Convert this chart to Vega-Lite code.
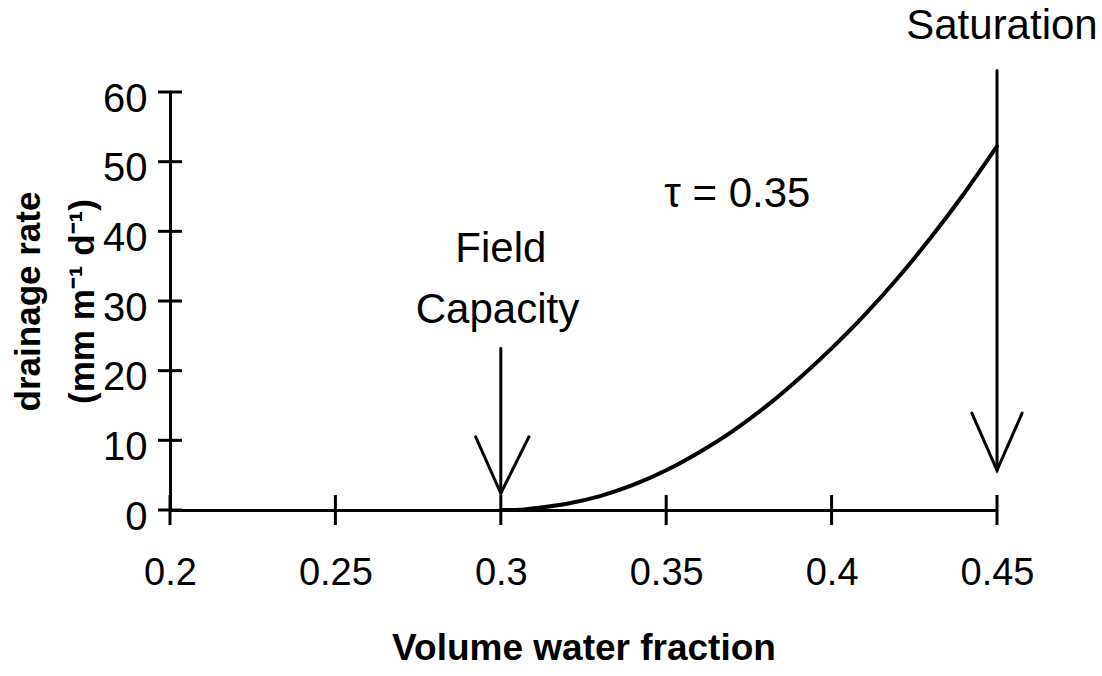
{
  "$schema": "https://vega.github.io/schema/vega-lite/v6.json",
  "width": 827,
  "height": 418,
  "autosize": "none",
  "padding": {"left": 170, "top": 92, "right": 105, "bottom": 166},
  "background": "white",
  "config": {"view": {"stroke": null}, "font": "Liberation Sans", "axis": {"grid": false}},
  "datasets": {
    "curve": [
      {"theta": 0.300, "rate": 0},
      {"theta": 0.306, "rate": 0.05},
      {"theta": 0.31, "rate": 0.25},
      {"theta": 0.32, "rate": 0.9},
      {"theta": 0.33, "rate": 2.0},
      {"theta": 0.34, "rate": 3.6},
      {"theta": 0.35, "rate": 5.7},
      {"theta": 0.36, "rate": 8.3},
      {"theta": 0.37, "rate": 11.3},
      {"theta": 0.38, "rate": 14.8},
      {"theta": 0.39, "rate": 18.8},
      {"theta": 0.40, "rate": 23.2},
      {"theta": 0.41, "rate": 28.0},
      {"theta": 0.42, "rate": 33.3},
      {"theta": 0.43, "rate": 39.1},
      {"theta": 0.44, "rate": 45.4},
      {"theta": 0.45, "rate": 52.2}
    ],
    "arrows": [
      {"seg": "fc-shaft", "o": 1, "theta": 0.3, "rate": 23.2},
      {"seg": "fc-shaft", "o": 2, "theta": 0.3, "rate": 2.4},
      {"seg": "fc-head", "o": 1, "theta": 0.2924, "rate": 10.5},
      {"seg": "fc-head", "o": 2, "theta": 0.3, "rate": 2.4},
      {"seg": "fc-head", "o": 3, "theta": 0.3085, "rate": 10.5},
      {"seg": "sat-shaft", "o": 1, "theta": 0.45, "rate": 63.1},
      {"seg": "sat-shaft", "o": 2, "theta": 0.45, "rate": 5.7},
      {"seg": "sat-head", "o": 1, "theta": 0.4424, "rate": 13.9},
      {"seg": "sat-head", "o": 2, "theta": 0.45, "rate": 5.7},
      {"seg": "sat-head", "o": 3, "theta": 0.4576, "rate": 13.9}
    ],
    "labels": [
      {"text": "Saturation", "theta": 0.4515, "rate": 67.6},
      {"text": "Field", "theta": 0.3, "rate": 35.6},
      {"text": "Capacity", "theta": 0.299, "rate": 26.8},
      {"text": "τ = 0.35", "theta": 0.3715, "rate": 43.5}
    ],
    "xticks": [
      {"theta": 0.2}, {"theta": 0.25}, {"theta": 0.3}, {"theta": 0.35}, {"theta": 0.4}, {"theta": 0.45}
    ],
    "yticks": [
      {"rate": 0}, {"rate": 10}, {"rate": 20}, {"rate": 30}, {"rate": 40}, {"rate": 50}, {"rate": 60}
    ]
  },
  "layer": [
    {
      "data": {"name": "curve"},
      "mark": {"type": "line", "color": "black", "strokeWidth": 4, "interpolate": "monotone", "strokeCap": "round"},
      "encoding": {
        "x": {
          "field": "theta", "type": "quantitative",
          "scale": {"domain": [0.2, 0.45], "nice": false, "zero": false},
          "axis": {
            "title": "Volume water fraction",
            "values": [0.2, 0.25, 0.3, 0.35, 0.4, 0.45],
            "format": "~g",
            "ticks": false,
            "domainColor": "black", "domainWidth": 3,
            "labelFontSize": 38, "labelColor": "black", "labelPadding": 44,
            "labelFlush": false, "labelOverlap": false,
            "titleFontSize": 37, "titleFontWeight": "bold", "titleColor": "black", "titlePadding": 38
          }
        },
        "y": {
          "field": "rate", "type": "quantitative",
          "scale": {"domain": [0, 60], "nice": false},
          "axis": {
            "title": ["drainage rate", "(mm m⁻¹ d⁻¹)"],
            "values": [0, 10, 20, 30, 40, 50, 60],
            "ticks": false,
            "domainColor": "black", "domainWidth": 3,
            "labelFontSize": 40, "labelColor": "black", "labelPadding": 23, "labelOffset": 7,
            "labelFlush": false, "labelOverlap": false,
            "titleFontSize": 35, "titleFontWeight": "bold", "titleColor": "black",
            "titleLineHeight": 54, "titlePadding": 2
          }
        }
      }
    },
    {
      "data": {"name": "arrows"},
      "mark": {"type": "line", "color": "black", "strokeWidth": 3, "strokeCap": "round", "strokeJoin": "miter"},
      "encoding": {
        "x": {"field": "theta", "type": "quantitative"},
        "y": {"field": "rate", "type": "quantitative"},
        "detail": {"field": "seg", "type": "nominal"},
        "order": {"field": "o", "type": "quantitative"}
      }
    },
    {
      "data": {"name": "xticks"},
      "mark": {"type": "tick", "orient": "vertical", "color": "black", "size": 30, "thickness": 3, "opacity": 1},
      "encoding": {
        "x": {"field": "theta", "type": "quantitative"},
        "y": {"datum": 0, "type": "quantitative"}
      }
    },
    {
      "data": {"name": "yticks"},
      "mark": {"type": "tick", "orient": "horizontal", "color": "black", "size": 24, "thickness": 3, "opacity": 1},
      "encoding": {
        "x": {"datum": 0.2, "type": "quantitative"},
        "y": {"field": "rate", "type": "quantitative"}
      }
    },
    {
      "data": {"name": "labels"},
      "mark": {"type": "text", "color": "black", "fontSize": 42, "align": "center", "baseline": "alphabetic", "font": "Liberation Sans"},
      "encoding": {
        "x": {"field": "theta", "type": "quantitative"},
        "y": {"field": "rate", "type": "quantitative"},
        "text": {"field": "text", "type": "nominal"}
      }
    }
  ]
}
